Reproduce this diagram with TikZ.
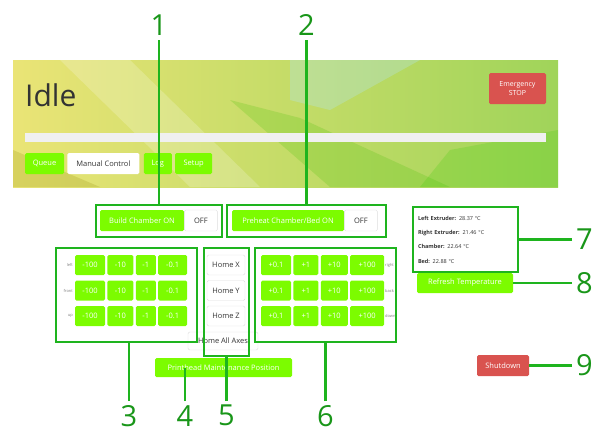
\documentclass[tikz,border=0pt]{standalone}
\usepackage{fontspec}
\setmainfont{Open Sans}
\usetikzlibrary{positioning}
\definecolor{btngreen}{RGB}{124,252,0}
\definecolor{btnred}{RGB}{217,83,79}
\definecolor{btnline}{RGB}{221,221,221}
\definecolor{btntext}{RGB}{51,51,51}
\definecolor{framegreen}{RGB}{30,180,30}
\definecolor{numgreen}{RGB}{25,150,25}
\definecolor{bannerleft}{RGB}{234,228,118}
\definecolor{bannermid}{RGB}{214,234,160}
\definecolor{bannerright}{RGB}{160,212,90}

\begin{document}
\begin{tikzpicture}[x=1pt, y=-1pt, node distance=2pt]
\tikzset{
    banner/.style={rectangle, inner sep=0pt, minimum width=545pt, minimum height=127pt, left color=bannerleft, middle color=bannermid, right color=bannerright},
    bar/.style={rectangle, inner sep=0pt, fill=white!94!black, minimum width=521pt, minimum height=9pt},
    btn/.style={rectangle, rounded corners=1.5pt, fill=btngreen, text=white, font=\fontsize{7.5}{9}\selectfont, inner sep=0pt, minimum height=20pt},
    btnw/.style={btn, fill=white, draw=btnline, text=btntext},
    btnr/.style={btn, fill=btnred},
    group/.style={rectangle, draw=framegreen, line width=2.5pt, inner sep=0pt},
    lead/.style={color=framegreen, line width=2.5pt},
    num/.style={text=numgreen, font=\fontsize{29}{29}\selectfont, inner sep=4pt},
    axlabel/.style={text=gray, font=\fontsize{4}{4}\selectfont, inner sep=1pt}
}
\useasboundingbox (0,0) rectangle (595,432);

% header
\node[banner] (banner) at (285.5,123.5) {};
\fill[white, opacity=.2] (60,60) -- (130,60) -- (260,187) -- (190,187) -- cycle;
\fill[cyan!30!white, opacity=.3] (290,60) -- (420,60) -- (330,110) -- (290,100) -- cycle;
\fill[green!50!olive, opacity=.2] (230,100) -- (300,118) -- (450,187) -- (330,187) -- cycle;
\fill[green!60!olive, opacity=.2] (450,150) -- (558,130) -- (558,187) -- (420,187) -- cycle;
\fill[olive, opacity=.2] (13,150) -- (100,187) -- (13,187) -- cycle;
\node[anchor=west, text=btntext, font=\fontsize{30}{30}\selectfont, inner sep=0pt] (idle) at (25,95) {Idle};
\node[bar] (progress) at (285.5,137.5) {};
\node[btnr, minimum width=57pt, minimum height=31pt, align=center, font=\fontsize{7}{9}\selectfont] (estop) at (517.5,88.5) {Emergency\\STOP};
\node[btn, minimum width=39pt, minimum height=21pt] (queue) at (44.5,163.5) {Queue};
\node[btnw, draw=none, minimum width=72pt, minimum height=21pt, right=3pt of queue] (manual) {Manual Control};
\node[btn, minimum width=28pt, minimum height=21pt, right=4pt of manual] (log) {Log};
\node[btn, minimum width=37pt, minimum height=21pt, right=3pt of log] (setup) {Setup};

% chamber switches
\node[btn, minimum width=84pt, minimum height=21pt] (buildon) at (142,220.5) {Build Chamber ON};
\node[btnw, minimum width=33pt, minimum height=21pt, right=0pt of buildon] (buildoff) {OFF};
\node[btn, minimum width=112pt, minimum height=21pt] (preheaton) at (288,220.5) {Preheat Chamber/Bed ON};
\node[btnw, minimum width=33pt, minimum height=21pt, right=0pt of preheaton] (preheatoff) {OFF};

% jog minus
\node[axlabel, anchor=east] (lxlab) at (74,265) {left};
\node[axlabel, anchor=east] (lylab) at (74,290.5) {front};
\node[axlabel, anchor=east] (lzlab) at (74,316) {up};
\node[btn, minimum width=30pt] (lx1) at (90,265) {-100};
\node[btn, minimum width=26pt, right=of lx1] (lx2) {-10};
\node[btn, minimum width=20pt, right=of lx2] (lx3) {-1};
\node[btn, minimum width=29pt, right=of lx3] (lx4) {-0.1};
\node[btn, minimum width=30pt] (ly1) at (90,290.5) {-100};
\node[btn, minimum width=26pt, right=of ly1] (ly2) {-10};
\node[btn, minimum width=20pt, right=of ly2] (ly3) {-1};
\node[btn, minimum width=29pt, right=of ly3] (ly4) {-0.1};
\node[btn, minimum width=30pt] (lz1) at (90,316) {-100};
\node[btn, minimum width=26pt, right=of lz1] (lz2) {-10};
\node[btn, minimum width=20pt, right=of lz2] (lz3) {-1};
\node[btn, minimum width=29pt, right=of lz3] (lz4) {-0.1};

% homing
\node[btnw, minimum width=38pt] (homex) at (226,265) {Home X};
\node[btnw, minimum width=38pt] (homey) at (226,290.5) {Home Y};
\node[btnw, minimum width=38pt] (homez) at (226,316) {Home Z};
\node[btnw, minimum width=70pt, minimum height=18pt] (homeall) at (223,341) {Home All Axes};
\node[btn, minimum width=137pt, minimum height=19pt] (pmp) at (223.5,367.5) {Printhead Maintenance Position};

% jog plus
\node[btn, minimum width=30pt] (rx1) at (276,265) {+0.1};
\node[btn, minimum width=25pt, right=of rx1] (rx2) {+1};
\node[btn, minimum width=27pt, right=of rx2] (rx3) {+10};
\node[btn, minimum width=34pt, right=of rx3] (rx4) {+100};
\node[btn, minimum width=30pt] (ry1) at (276,290.5) {+0.1};
\node[btn, minimum width=25pt, right=of ry1] (ry2) {+1};
\node[btn, minimum width=27pt, right=of ry2] (ry3) {+10};
\node[btn, minimum width=34pt, right=of ry3] (ry4) {+100};
\node[btn, minimum width=30pt] (rz1) at (276,316) {+0.1};
\node[btn, minimum width=25pt, right=of rz1] (rz2) {+1};
\node[btn, minimum width=27pt, right=of rz2] (rz3) {+10};
\node[btn, minimum width=34pt, right=of rz3] (rz4) {+100};
\node[axlabel, anchor=west] (rxlab) at (384,265) {right};
\node[axlabel, anchor=west] (rylab) at (384,290.5) {back};
\node[axlabel, anchor=west] (rzlab) at (384,316) {down};

% temperatures
\node[group, minimum width=105pt, minimum height=65pt, text width=95pt, inner xsep=5pt, align=left, text=btntext, font=\fontsize{5.5}{14.3}\selectfont] (temps) at (465.5,239.5) {\textbf{Left Extruder:} 28.37 °C\\\textbf{Right Extruder:} 21.46 °C\\\textbf{Chamber:} 22.64 °C\\\textbf{Bed:} 22.88 °C};
\node[btn, minimum width=96pt] (refresh) at (465,283) {Refresh Temperature};
\node[btnr, minimum width=52pt, minimum height=21pt] (shutdown) at (503,365.5) {Shutdown};

% groups
\node[group, minimum width=126pt, minimum height=32pt] (box1) at (159,221) {};
\node[group, minimum width=159pt, minimum height=32pt] (box2) at (306.5,221) {};
\node[group, minimum width=141pt, minimum height=94pt] (box3) at (126.5,295) {};
\node[group, minimum width=45pt, minimum height=108pt] (box5) at (226.5,302) {};
\node[group, minimum width=141pt, minimum height=94pt] (box6) at (325.5,295) {};

% numbers
\node[num, anchor=south] (n1) at (159,40) {1};
\node[num, anchor=south] (n2) at (306.5,40) {2};
\node[num, anchor=north] (n3) at (129,401) {3};
\node[num, anchor=north] (n4) at (185,401) {4};
\node[num, anchor=north] (n5) at (226.5,401) {5};
\node[num, anchor=north] (n6) at (325.5,401) {6};
\node[num, anchor=west] (n7) at (572,239.5) {7};
\node[num, anchor=west] (n8) at (572,283) {8};
\node[num, anchor=west] (n9) at (572,365.5) {9};

% lines
\draw[lead] (n1.south) edge (box1.north);
\draw[lead] (n2.south) edge (box2.north);
\draw[lead] (n3.north) edge (n3.north |- box3.south);
\draw[lead] (n4.north) edge (n4.north |- pmp.center);
\draw[lead] (n5.north) edge (box5.south);
\draw[lead] (n6.north) edge (box6.south);
\draw[lead] (n7.west) edge (temps.east);
\draw[lead] (n8.west) edge (refresh.east);
\draw[lead] (n9.west) edge (shutdown.east);

\end{tikzpicture}
\end{document}
